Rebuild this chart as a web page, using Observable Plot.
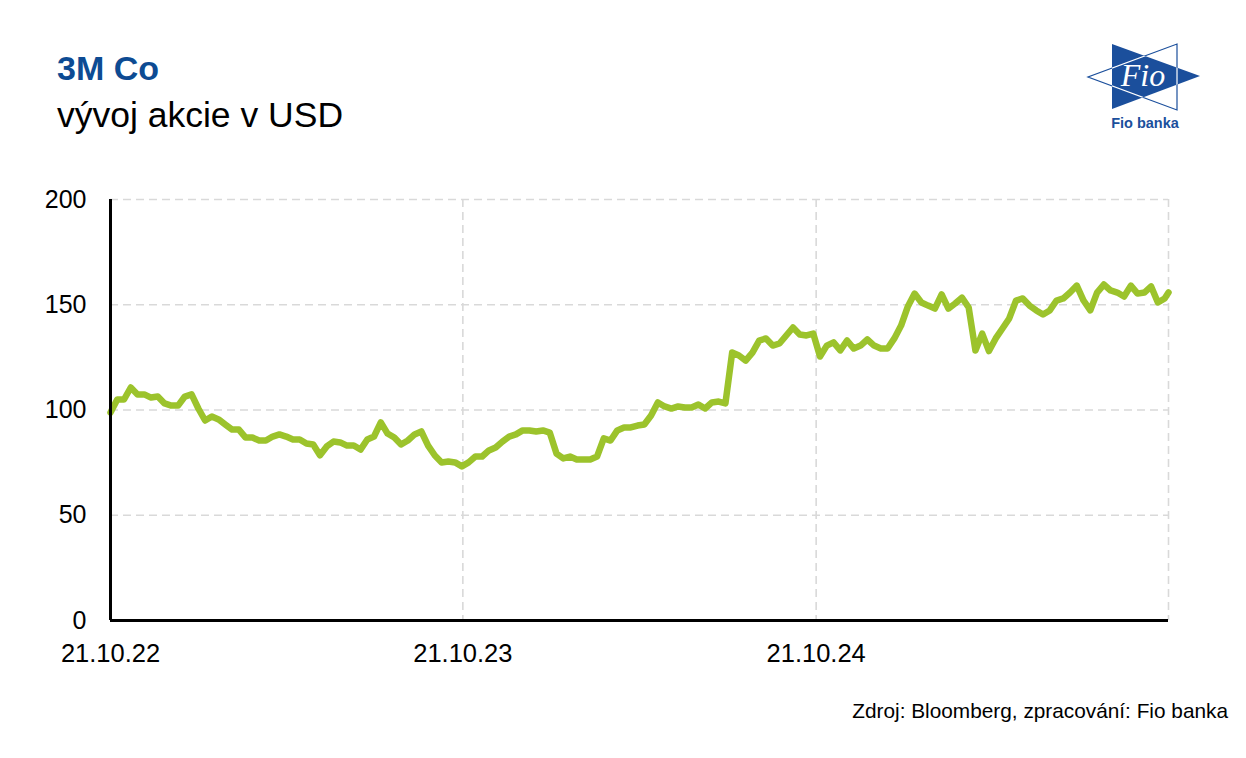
<!DOCTYPE html>
<html>
<head>
<meta charset="utf-8">
<script src="https://cdn.jsdelivr.net/npm/d3@7"></script>
<script src="https://cdn.jsdelivr.net/npm/@observablehq/plot@0.6"></script>
<style>
  html, body { margin: 0; padding: 0; background: #fff; }
  #wrap { position: relative; width: 1246px; height: 758px; overflow: hidden; font-family: "Liberation Sans", Arial, sans-serif; }
  #chart { position: absolute; left: 0; top: 0; }
  #overlay { position: absolute; left: 0; top: 0; pointer-events: none; }
</style>
</head>
<body>
<div id="wrap">
  <div id="chart"></div>
  <svg id="overlay" width="1246" height="758" xmlns="http://www.w3.org/2000/svg">
    <text x="57" y="80" font-family="Liberation Sans, Arial, sans-serif" font-weight="bold" font-size="34" fill="#0d4b93">3M Co</text>
    <text x="57" y="127" font-family="Liberation Sans, Arial, sans-serif" font-size="35.5" fill="#000">vývoj akcie v USD</text>
    <text x="1228" y="718" text-anchor="end" font-family="Liberation Sans, Arial, sans-serif" font-size="20.8" fill="#000">Zdroj: Bloomberg, zpracování: Fio banka</text>
    <defs>
      <clipPath id="triA"><polygon points="1112,44 1112,109 1200,76"/></clipPath>
    </defs>
    <polygon points="1177,44 1177,110 1088,77" fill="none" stroke="#1b4f9c" stroke-width="1.2"/>
    <polygon points="1112,44 1112,109 1200,76" fill="#1b4f9c"/>
    <polygon points="1177,44 1177,110 1088,77" fill="none" stroke="#fff" stroke-width="1.2" clip-path="url(#triA)"/>
    <text x="1143" y="86" text-anchor="middle" font-family="Liberation Serif, serif" font-style="italic" font-size="32" fill="#fff">Fio</text>
    <text x="1145" y="128" text-anchor="middle" font-family="Liberation Sans, Arial, sans-serif" font-weight="bold" font-size="14.5" fill="#1b4f9c">Fio banka</text>
  </svg>
</div>
<script>
// ---- data (weekly closes) ----
const dates = [
  "2022-10-21","2022-10-28","2022-11-04","2022-11-11","2022-11-18","2022-11-25","2022-12-02","2022-12-09","2022-12-16","2022-12-23","2022-12-30",
  "2023-01-06","2023-01-13","2023-01-20","2023-01-27","2023-02-03","2023-02-10","2023-02-17","2023-02-24","2023-03-03","2023-03-10","2023-03-17","2023-03-24","2023-03-31",
  "2023-04-07","2023-04-14","2023-04-21","2023-04-28","2023-05-05","2023-05-12","2023-05-19","2023-05-26","2023-06-02","2023-06-09","2023-06-16","2023-06-23","2023-06-30",
  "2023-07-07","2023-07-14","2023-07-21","2023-07-28","2023-08-04","2023-08-11","2023-08-18","2023-08-25","2023-09-01","2023-09-08","2023-09-15","2023-09-22","2023-09-29",
  "2023-10-06","2023-10-13","2023-10-20","2023-10-27","2023-11-03","2023-11-10","2023-11-17","2023-11-24","2023-12-01","2023-12-08","2023-12-15","2023-12-22","2023-12-29",
  "2024-01-05","2024-01-12","2024-01-19","2024-01-26","2024-02-02","2024-02-09","2024-02-16","2024-02-23","2024-03-01","2024-03-08","2024-03-15","2024-03-22","2024-03-29",
  "2024-04-05","2024-04-12","2024-04-19","2024-04-26","2024-05-03","2024-05-10","2024-05-17","2024-05-24","2024-05-31","2024-06-07","2024-06-14","2024-06-21","2024-06-28",
  "2024-07-05","2024-07-12","2024-07-19","2024-07-26","2024-08-02","2024-08-09","2024-08-16","2024-08-23","2024-08-30","2024-09-06","2024-09-13","2024-09-20","2024-09-27",
  "2024-10-04","2024-10-11","2024-10-18","2024-10-25","2024-11-01","2024-11-08","2024-11-15","2024-11-22","2024-11-29","2024-12-06","2024-12-13","2024-12-20","2024-12-27",
  "2025-01-03","2025-01-10","2025-01-17","2025-01-24","2025-01-31","2025-02-07","2025-02-14","2025-02-21","2025-02-28","2025-03-07","2025-03-14","2025-03-21","2025-03-28",
  "2025-04-04","2025-04-11","2025-04-18","2025-04-25","2025-05-02","2025-05-09","2025-05-16","2025-05-23","2025-05-30","2025-06-06","2025-06-13","2025-06-20","2025-06-27",
  "2025-07-04","2025-07-11","2025-07-18","2025-07-25","2025-08-01","2025-08-08","2025-08-15","2025-08-22","2025-08-29","2025-09-05","2025-09-12","2025-09-19","2025-09-26",
  "2025-10-03","2025-10-10","2025-10-17","2025-10-21"
];
const prices = [
  98.8,105.0,105.0,110.7,107.4,107.4,105.9,106.4,103.1,102.1,102.1,
  106.4,107.4,100.7,95.0,96.9,95.5,93.1,90.7,90.7,86.9,86.9,85.5,85.5,
  87.4,88.4,87.4,86.0,86.0,84.1,83.6,78.5,82.7,85.0,84.6,83.1,83.1,
  81.2,86.0,87.4,94.1,88.8,86.9,83.6,85.5,88.4,89.8,83.1,78.4,75.1,
  75.5,75.1,73.2,75.1,77.9,77.9,80.8,82.2,85.0,87.4,88.4,90.3,90.3,
  89.8,90.3,89.3,79.3,77.0,77.9,76.5,76.5,76.5,77.9,86.5,85.5,90.3,
  91.7,91.7,92.6,93.1,97.4,103.6,101.7,100.7,101.7,101.2,101.2,102.6,100.7,
  103.6,104.0,103.1,127.3,125.9,123.5,127.3,133.0,134.0,130.6,131.6,135.4,139.2,
  135.9,135.4,136.3,125.4,130.6,132.1,128.3,133.0,129.2,130.6,133.5,130.6,129.2,
  129.2,134.0,140.1,149.2,155.3,151.1,149.6,148.2,154.9,148.2,150.6,153.4,148.7,
  128.3,136.3,128.0,134.0,138.7,143.5,152.0,153.0,149.6,147.3,145.4,147.3,152.0,
  153.0,155.8,159.1,152.0,147.3,155.8,159.6,156.8,155.8,153.9,159.1,155.3,155.8,
  158.7,151.1,153.0,155.8
];
const yTicks = [0, 50, 100, 150, 200];
const xTickLabels = ["2022-10-21", "2023-10-21", "2024-10-21"];
const xGridDates = ["2023-10-21", "2024-10-21", "2025-10-21"];
const xDomain = ["2022-10-21", "2025-10-21"];

const parse = d3.utcParse("%Y-%m-%d");
const data = dates.map((d, i) => ({date: parse(d), price: prices[i]}));
const xTicks = xTickLabels.map(parse);
const xGrid = xGridDates.map(parse);

const chart = Plot.plot({
  width: 1246,
  height: 758,
  marginLeft: 110,
  marginRight: 78,
  marginTop: 199,
  marginBottom: 138,
  style: {fontFamily: "Liberation Sans, Arial, sans-serif", color: "#000", background: "transparent", overflow: "visible"},
  x: {type: "utc", domain: xDomain.map(parse)},
  y: {domain: [0, 200]},
  marks: [
    Plot.gridY(yTicks.filter(t => t > 0), {stroke: "#d9d9d9", strokeOpacity: 1, strokeWidth: 1.6, strokeDasharray: "8,5"}),
    Plot.gridX(xGrid, {stroke: "#d9d9d9", strokeOpacity: 1, strokeWidth: 1.6, strokeDasharray: "8,5"}),
    Plot.axisY(yTicks, {tickSize: 0, tickPadding: 24, fontSize: 25, label: null}),
    Plot.axisX(xTicks, {tickSize: 0, tickPadding: 23, fontSize: 25.5, label: null, tickFormat: d3.utcFormat("%d.%m.%y")}),
    Plot.line(data, {x: "date", y: "price", stroke: "#9cc32c", strokeWidth: 6.5, strokeLinejoin: "round", strokeLinecap: "round"}),
    Plot.ruleY([0], {stroke: "#000", strokeWidth: 3}),
    Plot.ruleX([parse(xDomain[0])], {stroke: "#000", strokeWidth: 3})
  ]
});
document.getElementById("chart").appendChild(chart);
</script>
</body>
</html>
